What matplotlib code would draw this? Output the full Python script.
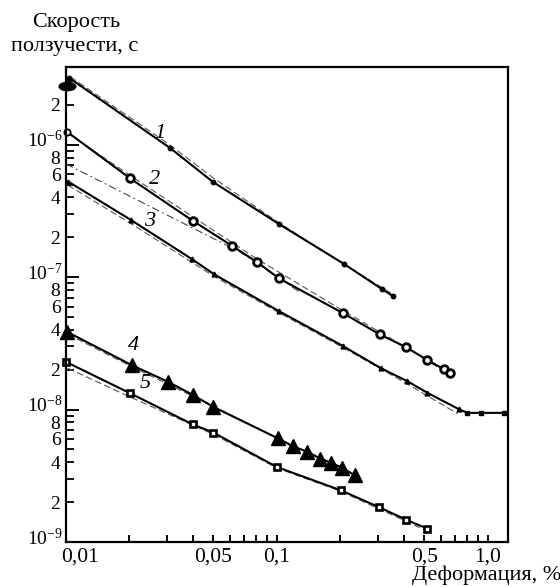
import numpy as np
import matplotlib
matplotlib.use("Agg")
import matplotlib.pyplot as plt
from matplotlib.ticker import FixedLocator, FixedFormatter, NullFormatter
import matplotlib.transforms as mtransforms
from matplotlib.path import Path

plt.rcParams['font.family'] = ['Liberation Serif', 'DejaVu Serif']
plt.rcParams['mathtext.fontset'] = 'custom'
plt.rcParams['mathtext.rm'] = 'Liberation Serif'
plt.rcParams['mathtext.it'] = 'Liberation Serif:italic'

# ---------------- data ----------------
s1_x = [0.01033, 0.0311, 0.0497, 0.1022, 0.2077, 0.3145, 0.3546]
s1_y = [3.2e-6, 9.46e-7, 5.24e-7, 2.52e-7, 1.26e-7, 8.13e-8, 7.2e-8]
s1_first_x = [0.0101]
s1_first_y = [2.78e-6]

s2_x = [0.01008, 0.0201, 0.0401, 0.0614, 0.0807, 0.1022, 0.2055, 0.3077, 0.4087, 0.5156, 0.6209, 0.6605]
s2_y = [1.256e-6, 5.58e-7, 2.65e-7, 1.72e-7, 1.295e-7, 9.8e-8, 5.35e-8, 3.69e-8, 2.96e-8, 2.375e-8, 2.01e-8, 1.894e-8]

s3_x = [0.01025, 0.02033, 0.0397, 0.0504, 0.1022, 0.2055, 0.31, 0.4145, 0.5177, 0.7289]
s3_y = [5.26e-7, 2.70e-7, 1.362e-7, 1.05e-7, 5.54e-8, 3.02e-8, 2.06e-8, 1.64e-8, 1.337e-8, 1.007e-8]
s3_flat_x = [0.7996, 0.9333, 1.191]
s3_flat_y = [9.44e-9, 9.44e-9, 9.44e-9]

s4_x = [0.01008, 0.0205, 0.0305, 0.0401, 0.0499, 0.1014, 0.1188, 0.1395, 0.16, 0.1803, 0.2026, 0.2343]
s4_y = [3.87e-8, 2.166e-8, 1.62e-8, 1.284e-8, 1.048e-8, 6.05e-9, 5.29e-9, 4.79e-9, 4.27e-9, 3.97e-9, 3.65e-9, 3.19e-9]

s5_x = [0.0100, 0.0201, 0.0399, 0.0499, 0.0997, 0.2004, 0.3054, 0.4087, 0.5156]
s5_y = [2.29e-8, 1.33e-8, 7.72e-9, 6.71e-9, 3.69e-9, 2.46e-9, 1.83e-9, 1.476e-9, 1.263e-9]

# companion thin dashed curves (close to each experimental curve)
d1_x = [0.0105, 0.031, 0.05, 0.102, 0.208, 0.36]
d1_y = [3.25e-6, 1.0e-6, 5.6e-7, 2.58e-7, 1.25e-7, 7.3e-8]
d2_x = [0.0102, 0.02, 0.04, 0.08, 0.205, 0.41, 0.62]
d2_y = [1.22e-6, 5.9e-7, 2.85e-7, 1.38e-7, 5.6e-8, 2.95e-8, 1.95e-8]
d3_x = [0.0102, 0.02, 0.05, 0.102, 0.205, 0.41, 0.72]
d3_y = [4.95e-7, 2.58e-7, 1.02e-7, 5.4e-8, 2.95e-8, 1.58e-8, 9.3e-9]
d4_x = [0.0102, 0.02, 0.05, 0.1, 0.2]
d4_y = [3.7e-8, 2.15e-8, 1.06e-8, 6.1e-9, 3.7e-9]
d5_x = [0.0102, 0.02, 0.05, 0.1, 0.2, 0.5]
d5_y = [2.05e-8, 1.25e-8, 6.5e-9, 3.62e-9, 2.42e-9, 1.24e-9]
# dash-dot curve near curve 2
dd_x = [0.0100, 0.0668, 0.1285]
dd_y = [7.16e-7, 1.55e-7, 7.7e-8]

x_tick_vals = [0.01, 0.05, 0.1, 0.5, 1.0]
x_tick_labels = ['0,01', '0,05', '0,1', '0,5', '1,0']
curve_labels = ['1', '2', '3', '4', '5']

# ---------------- figure ----------------
W, H = 560, 587
fig = plt.figure(figsize=(W / 100, H / 100), dpi=100)
ax = fig.add_axes([66 / W, 45 / H, 442 / W, 475 / H])
ax.set_xscale('log')
ax.set_yscale('log')
ax.set_xlim(0.01, 1.247)
ax.set_ylim(1e-9, 3.86e-6)

dash_kw = dict(color='#555555', lw=0.8, dashes=(6, 3))
for dx, dy in [(d1_x, d1_y), (d2_x, d2_y), (d3_x, d3_y), (d4_x, d4_y), (d5_x, d5_y)]:
    ax.plot(dx, dy, **dash_kw)
ax.plot(dd_x, dd_y, color='#444444', lw=0.8, dashes=(7, 3, 1.5, 3))

line_kw = dict(color='black', lw=1.5)
# curve 1
ax.plot(s1_x, s1_y, marker='o', ms=3.2, mfc='black', mec='black', **line_kw)
ell = Path(Path.unit_circle().vertices * np.array([2.0, 1.0]), Path.unit_circle().codes)
ax.plot(s1_first_x, s1_first_y, ls='none', marker=ell, ms=12, mfc='black', mec='black', clip_on=False)
# curve 2
ax.plot(s2_x, s2_y, **line_kw)
ax.plot(s2_x[1:], s2_y[1:], ls='none', marker='o', ms=5.5, mfc='white', mec='black', mew=2.0)
ax.plot(s2_x[:1], s2_y[:1], ls='none', marker='o', ms=4.5, mfc='white', mec='black', mew=1.3, clip_on=False)
# curve 3
ax.plot(s3_x + s3_flat_x, s3_y + s3_flat_y, **line_kw)
ax.plot(s3_x, s3_y, ls='none', marker='^', ms=3.5, mfc='black', mec='black')
ax.plot(s3_flat_x, s3_flat_y, ls='none', marker='s', ms=2.5, mfc='black', mec='black')
# curve 4
ax.plot(s4_x, s4_y, **line_kw)
ax.plot(s4_x, s4_y, ls='none', marker='^', ms=10.5, mfc='black', mec='black', clip_on=False)
# curve 5
ax.plot(s5_x, s5_y, **line_kw)
ax.plot(s5_x, s5_y, ls='none', marker='s', ms=4.3, mfc='white', mec='black', mew=1.9, clip_on=False)

# ---------------- axes styling ----------------
for sp in ax.spines.values():
    sp.set_linewidth(1.6)

x_minor = [v * m for v in (0.01, 0.1) for m in range(2, 10)
           if not np.isclose(v * m, 0.05) and not np.isclose(v * m, 0.5)]
ax.xaxis.set_major_locator(FixedLocator(x_tick_vals))
ax.xaxis.set_major_formatter(FixedFormatter(x_tick_labels))
ax.xaxis.set_minor_locator(FixedLocator(x_minor))
ax.xaxis.set_minor_formatter(NullFormatter())
ax.tick_params(axis='x', which='both', direction='in', length=5, width=1.4, labelsize=15.5, pad=4)

y_major = [1e-9, 1e-8, 1e-7, 1e-6]
y_major_labels = [r'$\mathregular{10^{-9}}$', r'$\mathregular{10^{-8}}$',
                  r'$\mathregular{10^{-7}}$', r'$\mathregular{10^{-6}}$']
y_minor = []
y_minor_labels = []
for dec in (1e-9, 1e-8, 1e-7, 1e-6):
    for m in range(2, 10):
        v = dec * m
        if v <= 3.86e-6:
            y_minor.append(v)
            y_minor_labels.append(str(m) if m in (2, 4, 6, 8) else '')
ax.yaxis.set_major_locator(FixedLocator(y_major))
ax.yaxis.set_major_formatter(FixedFormatter(y_major_labels))
ax.yaxis.set_minor_locator(FixedLocator(y_minor))
ax.yaxis.set_minor_formatter(FixedFormatter(y_minor_labels))
ax.tick_params(axis='y', which='major', direction='in', length=9.5, width=1.4, labelsize=14, pad=2.5)
ax.tick_params(axis='y', which='minor', direction='in', length=6, width=1.3, labelsize=14, pad=4)

fig.canvas.draw()
lab0 = ax.xaxis.get_majorticklabels()[0]
lab0.set_transform(lab0.get_transform() + mtransforms.ScaledTranslation(14 / 100, 0, fig.dpi_scale_trans))
for lab in ax.yaxis.get_majorticklabels():
    lab.set_transform(lab.get_transform() + mtransforms.ScaledTranslation(0, 6 / 100, fig.dpi_scale_trans))

# curve labels
label_pos = [(160, 133), (155, 180), (150, 221), (133, 345), (145, 384)]
for t, (px, py) in zip(curve_labels, label_pos):
    fig.text(px / W, 1 - py / H, t, fontsize=16, style='italic', ha='center', va='center')

# axis titles
fig.text(76 / W, 1 - 23 / H, 'Скорость', fontsize=16, ha='center', va='center')
fig.text(75 / W, 1 - 47 / H, 'ползучести, с', fontsize=16, ha='center', va='center')
fig.text(561 / W, 1 - 575 / H, 'Деформация, %', fontsize=16, ha='right', va='center')

fig.savefig('out.png', dpi=100)
